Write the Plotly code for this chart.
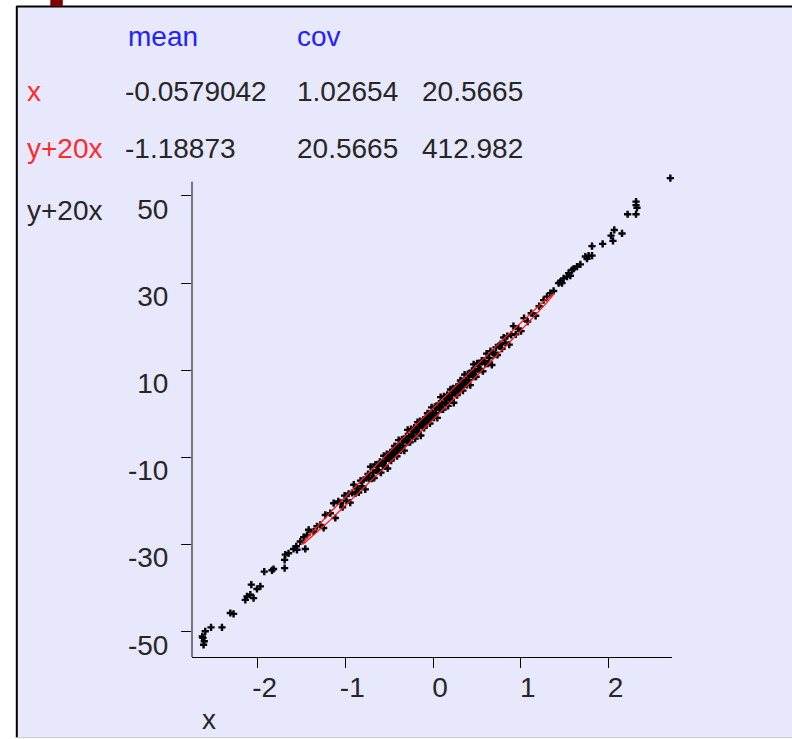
import numpy as np
import plotly.graph_objects as go

# ---------------- data ----------------
x_vals = [
    -2.623, -2.616, -2.608, -2.631, -2.597, -2.531, -2.406, -2.311, -2.274, -2.140,
    -2.121, -2.083, -2.046, -2.072, -2.007, -1.969, -1.924, -1.836, -1.818, -1.692,
    -1.692, -1.684, -1.647, -1.590, -1.551, -1.559, -1.456, -1.513, -1.475, -1.437,
    -1.418, -1.361, -1.323, -1.285, -1.247, -1.228, -1.171, -1.114, -1.133, -1.080,
    -1.052, -1.031, -1.008, -0.987, -0.962, -0.944, -0.921, -0.903, -0.884, -0.862,
    -0.847, -0.826, -0.809, -0.791, -0.772, -0.758, -0.741, -0.727, -0.712, -0.698,
    -0.684, -0.671, -0.657, -0.643, -0.632, -0.619, -0.606, -0.594, -0.583, -0.571,
    -0.561, -0.549, -0.538, -0.527, -0.517, -0.506,
    -0.496, -0.487, -0.477, -0.468, -0.458, -0.449, -0.439, -0.430, -0.421, -0.411,
    -0.402, -0.392, -0.383, -0.374, -0.364, -0.355, -0.345, -0.336, -0.327, -0.317,
    -0.308, -0.298, -0.289, -0.280, -0.270, -0.261, -0.251, -0.242, -0.233, -0.223,
    -0.214, -0.204, -0.195, -0.186, -0.176, -0.167, -0.157, -0.148, -0.139, -0.129,
    -0.120, -0.110, -0.101, -0.092, -0.082, -0.073, -0.063, -0.054, -0.045, -0.035,
    -0.026, -0.016, -0.007, 0.002, 0.012, 0.021, 0.031, 0.040, 0.049, 0.059,
    0.068, 0.078, 0.087, 0.096, 0.106, 0.115, 0.125, 0.134, 0.143, 0.153,
    0.162, 0.172, 0.181, 0.190, 0.200, 0.209, 0.219, 0.228, 0.237, 0.247,
    0.256, 0.266, 0.275, 0.284, 0.294, 0.303, 0.313, 0.322, 0.331, 0.341,
    0.350, 0.360, 0.369, 0.378, 0.388, 0.397, 0.407, 0.416, 0.425, 0.435,
    0.444, 0.454, 0.463, 0.472, 0.482, 0.491,
    0.503, 0.517, 0.528, 0.542, 0.556, 0.569, 0.583, 0.597, 0.611, 0.626,
    0.641, 0.655, 0.671, 0.686, 0.702, 0.718, 0.735, 0.752, 0.769, 0.787,
    0.806, 0.826, 0.847, 0.869, 0.892, 0.917, 0.943, 0.972, 1.004, 1.038,
    1.079, 1.120, 1.170, 1.210,
    1.261, 1.300, 1.338, 1.375, 1.471, 1.432, 1.452, 1.489, 1.566, 1.528,
    1.546, 1.585, 1.603, 1.642, 1.680, 1.756, 1.813, 1.774, 1.737, 1.813,
    1.934, 2.052, 2.155, 2.030, 2.067, 2.315, 2.219, 2.326, 2.315, 2.315,
    2.706,
]
y20x_vals = [
    -51.4, -53.0, -52.2, -51.1, -49.9, -49.0, -49.0, -45.7, -45.9, -42.7,
    -41.9, -41.5, -42.3, -39.2, -40.2, -39.6, -36.2, -35.9, -35.6, -35.4,
    -33.5, -32.3, -32.0, -31.0, -31.2, -30.4, -31.0, -29.3, -28.3, -27.8,
    -26.6, -27.0, -25.8, -25.5, -26.2, -23.2, -22.8, -23.9, -20.5, -20.1,
    -20.44, -21.42, -18.76, -19.94, -18.34, -20.38, -18.12, -16.26, -18.28, -17.14,
    -18.04, -15.32, -16.58, -15.12, -17.34, -14.76, -13.82, -14.84, -12.14, -14.86,
    -13.48, -14.72, -11.64, -12.96, -11.84, -13.08, -11.02, -13.48, -11.16, -11.92,
    -9.62, -11.98, -10.76, -9.24, -12.54, -9.82,
    -10.32, -8.84, -10.74, -8.76, -8.56, -9.78, -7.38, -8.80, -7.52, -9.72,
    -7.74, -6.04, -8.26, -7.38, -8.38, -5.90, -7.30, -6.02, -8.44, -5.94,
    -5.16, -6.26, -3.68, -6.50, -5.20, -6.52, -3.52, -4.94, -3.86, -5.16,
    -3.18, -5.68, -3.40, -4.22, -1.92, -4.34, -3.14, -1.66, -4.98, -2.28,
    -2.80, -1.30, -3.22, -1.24, -1.04, -2.26, 0.14, -1.28, 0.00, -2.20,
    -0.22, 1.48, -0.74, 0.14, -0.86, 1.62, 0.22, 1.50, -0.92, 1.58,
    2.36, 1.26, 3.84, 1.02, 2.32, 1.00, 4.00, 2.58, 3.66, 2.36,
    4.34, 1.84, 4.12, 3.30, 5.60, 3.18, 4.38, 5.86, 2.54, 5.24,
    4.72, 6.22, 4.30, 6.28, 6.48, 5.26, 7.66, 6.24, 7.52, 5.32,
    7.30, 9.00, 6.78, 7.66, 6.66, 9.14, 7.74, 9.02, 6.60, 9.10,
    9.88, 8.78, 11.36, 8.54, 9.84, 8.52,
    11.56, 10.24, 11.36, 10.14, 12.22, 9.78, 12.16, 11.44, 13.82, 11.52,
    12.82, 14.40, 11.22, 14.02, 13.64, 15.26, 13.50, 15.64, 15.98, 14.94,
    17.52, 16.32, 17.84, 15.88, 18.14, 20.14, 18.26, 19.54, 18.98, 21.96,
    21.18, 23.10, 22.50, 24.70,
    26.1, 26.9, 27.7, 28.2, 30.0, 30.0, 30.3, 31.1, 31.7, 31.5,
    32.3, 33.0, 33.3, 33.8, 34.3, 35.6, 36.3, 36.3, 36.1, 38.5,
    39.0, 39.7, 41.4, 40.9, 42.2, 45.8, 45.8, 47.3, 47.9, 48.7,
    54.1,
]

# statistics shown in the table
row_names = ["x", "y+20x"]
mean_vals = [-0.0579042, -1.18873]
cov_row_x = [1.02654, 20.5665]
cov_row_y = [20.5665, 412.982]
mean_labels = ["-0.0579042", "-1.18873"]
cov_labels = [["1.02654", "20.5665"], ["20.5665", "412.982"]]

x_ticks = [-2, -1, 0, 1, 2]
x_ticktext = ["-2", "-1", "0", "1", "2"]
y_ticks = [50, 30, 10, -10, -30, -50]
y_ticktext = ["50", "30", "10", "-10", "-30", "-50"]
y_axis_extent = [-55.8, 53.28]

# ---------------- geometry helpers ----------------
W, H = 792, 739
L, R, T, B = 191.7, 671.7, 172.0, 657.3   # plot area in pixels
PW, PH = R - L, B - T

def px(xp):
    return (xp - L) / PW

def py(yp):
    return (B - yp) / PH

FONT = "Liberation Sans, Arial, sans-serif"
FS = 28
BLUE = "#2222ff"
RED = "#ff2a2a"
TXT = "#262626"
BG = "#e8e8fc"

fig = go.Figure()

fig.add_trace(go.Scatter(
    x=x_vals, y=y20x_vals, mode="markers",
    marker=dict(symbol="cross", size=6, color="black", line=dict(width=0)),
    cliponaxis=False, showlegend=False, hoverinfo="skip",
))

# covariance ellipse from the shown mean / covariance
cov = np.array([cov_row_x, cov_row_y])
evals, evecs = np.linalg.eigh(cov)
t = np.linspace(0, 2 * np.pi, 400)
r = np.sqrt(2.0)
circ = np.vstack([np.cos(t), np.sin(t)]) * r
pts = evecs @ (np.sqrt(evals)[:, None] * circ)
ex = pts[0] + mean_vals[0]
ey = pts[1] + mean_vals[1]
fig.add_trace(go.Scatter(
    x=ex, y=ey, mode="lines", line=dict(color="#ff1a1a", width=1.3),
    showlegend=False, hoverinfo="skip",
))

shapes = [
    dict(type="rect", xref="paper", yref="paper",
         x0=px(16), x1=px(800), y0=py(737.5), y1=py(6.5),
         fillcolor=BG, line=dict(width=0), layer="below"),
    dict(type="line", xref="paper", yref="paper",
         x0=px(16), x1=px(800), y0=py(6.5), y1=py(6.5),
         line=dict(color="black", width=2), layer="above"),
    dict(type="line", xref="paper", yref="paper",
         x0=px(16.5), x1=px(16.5), y0=py(6), y1=py(738),
         line=dict(color="black", width=2), layer="above"),
    dict(type="line", xref="paper", yref="paper",
         x0=px(16), x1=px(800), y0=py(738), y1=py(738),
         line=dict(color="#c8c8d0", width=1), layer="above"),
    dict(type="rect", xref="paper", yref="paper",
         x0=px(50), x1=px(62.5), y0=py(6), y1=py(-2),
         fillcolor="#800000", line=dict(width=0), layer="above"),
    # vertical axis line (stops below the topmost point)
    dict(type="line", xref="paper", yref="y",
         x0=0, x1=0, y0=y_axis_extent[0], y1=y_axis_extent[1],
         line=dict(color="black", width=1), layer="above"),
]

ann = []
def txt(s, xl, yc, color):
    ann.append(dict(text=s, xref="paper", yref="paper", x=px(xl), y=py(yc),
                    xanchor="left", yanchor="middle", showarrow=False,
                    font=dict(family=FONT, size=FS, color=color)))

txt("mean", 126, 36, BLUE)
txt("cov", 295, 36, BLUE)
for i, name in enumerate(row_names):
    yc = 91 + i * 57
    txt(name, 25, yc, RED)
    txt(mean_labels[i], 123, yc, TXT)
    txt(cov_labels[i][0], 295, yc, TXT)
    txt(cov_labels[i][1], 420, yc, TXT)
txt("y+20x", 25, 211, TXT)
txt("x", 200, 720, TXT)

fig.update_layout(
    width=W, height=H, autosize=False,
    margin=dict(l=L, r=W - R, t=T, b=H - B, pad=0),
    paper_bgcolor="white", plot_bgcolor="rgba(0,0,0,0)",
    shapes=shapes, annotations=ann,
    xaxis=dict(range=[-2.748, 2.725], showgrid=False, zeroline=False,
               showline=True, linecolor="black", linewidth=1,
               ticks="outside", ticklen=10, tickwidth=1, tickcolor="black",
               tickmode="array", tickvals=x_ticks, ticktext=x_ticktext,
               tickfont=dict(family=FONT, size=FS, color=TXT),
               ticklabelshift=7, ticklabelstandoff=-5),
    yaxis=dict(range=[-55.8, 55.5], showgrid=False, zeroline=False,
               showline=False,
               ticks="outside", ticklen=10, tickwidth=1, tickcolor="black",
               tickmode="array", tickvals=y_ticks, ticktext=y_ticktext,
               tickfont=dict(family=FONT, size=FS, color=TXT),
               ticklabelshift=13, ticklabelstandoff=7),
)

fig.write_html("out.html")
